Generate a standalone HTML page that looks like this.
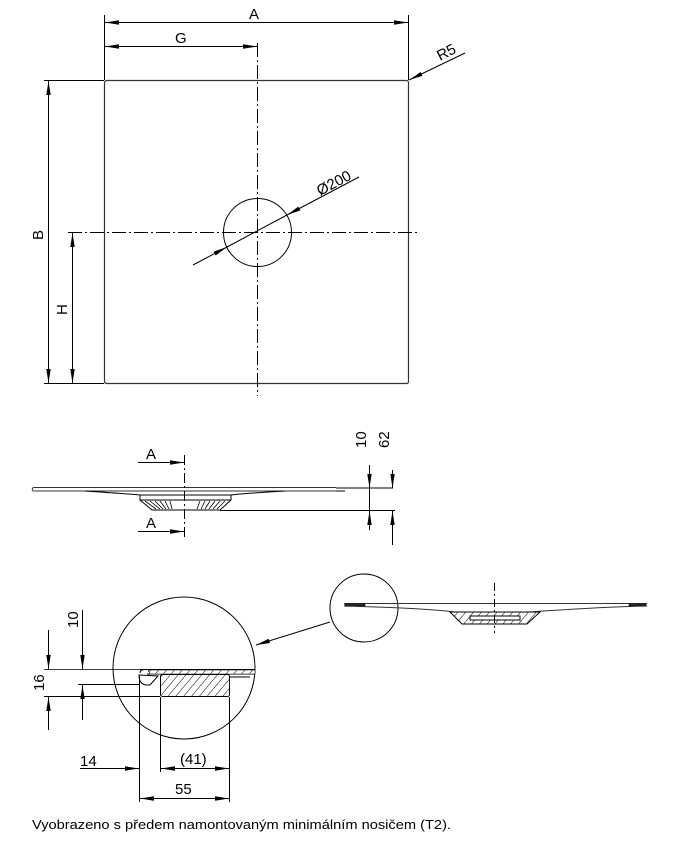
<!DOCTYPE html>
<html><head><meta charset="utf-8"><style>
html,body{margin:0;padding:0;background:#fff;}
svg{display:block;}
text{font-family:"Liberation Sans",Arial,sans-serif;fill:#000;}
</style></head><body>
<svg width="673" height="856" viewBox="0 0 673 856" xmlns="http://www.w3.org/2000/svg">
<defs>
<marker id="ar" markerWidth="14" markerHeight="6" refX="14" refY="3" orient="auto" markerUnits="userSpaceOnUse">
<path d="M0,0.8 L14,3 L0,5.2 Z" fill="#000"/></marker>
<pattern id="hat" width="6" height="6" patternUnits="userSpaceOnUse" patternTransform="rotate(40)">
<rect width="6" height="6" fill="#fff"/><line x1="0" y1="0" x2="0" y2="6" stroke="#000" stroke-width="1"/></pattern>
</defs>
<g stroke="#000" stroke-width="1" fill="none">
<rect x="104.5" y="80.5" width="304" height="303" rx="2" stroke="#333" stroke-width="1.2"/>
<line x1="104.5" y1="15" x2="104.5" y2="80"/>
<line x1="408.5" y1="15" x2="408.5" y2="80"/>
<line x1="110" y1="22.5" x2="402" y2="22.5"/>
<line x1="125" y1="22.5" x2="105" y2="22.5" marker-end="url(#ar)"/>
<line x1="388" y1="22.5" x2="408" y2="22.5" marker-end="url(#ar)"/>
<line x1="125" y1="46.5" x2="105" y2="46.5" marker-end="url(#ar)"/>
<line x1="120" y1="46.5" x2="257" y2="46.5" marker-end="url(#ar)"/>
<line x1="257.5" y1="43" x2="257.5" y2="396" stroke-dasharray="14,3,2,3"/>
<line x1="68" y1="232.5" x2="420" y2="232.5" stroke-dasharray="14,3,2,3"/>
<circle cx="257.5" cy="232.5" r="34"/>
<line x1="44" y1="80.5" x2="104" y2="80.5"/>
<line x1="44" y1="383.5" x2="104" y2="383.5"/>
<line x1="48.5" y1="100" x2="48.5" y2="81" marker-end="url(#ar)"/>
<line x1="48.5" y1="90" x2="48.5" y2="383" marker-end="url(#ar)"/>
<line x1="72.5" y1="250" x2="72.5" y2="233" marker-end="url(#ar)"/>
<line x1="72.5" y1="240" x2="72.5" y2="383" marker-end="url(#ar)"/>
<line x1="359" y1="177" x2="287" y2="215" marker-end="url(#ar)"/>
<line x1="193" y1="265" x2="227" y2="247" marker-end="url(#ar)"/>
<line x1="227" y1="247" x2="287" y2="215"/>
<line x1="465" y1="53" x2="409" y2="80" marker-end="url(#ar)"/>
<path d="M34,487.5 L336,487.5 M34,491 L336,491 M34,487.5 A1.7,1.7 0 0 0 34,491" stroke="#333"/>
<line x1="336" y1="488" x2="393" y2="488"/>
<line x1="336" y1="491" x2="345" y2="491"/>
<path d="M85,491 Q130,494 140,495 L231,495 Q250,493 285,491" />
<path d="M140,495 L140,500 L231,500 L231,495"/>
<path d="M140,500 L152,510 L220,510 L231,500"/>
<path d="M145,501 L156,509 M150,501 L160,509 M155,501 L163,509 M160,501 L166,509 M165,501 L169,509 M170,501 L172,509 M200,501 L197,509 M205,501 L201,509 M210,501 L205,509 M215,501 L209,509 M220,501 L213,509 M225,501 L217,509" stroke-width="0.8"/>
<line x1="220" y1="510.5" x2="395" y2="510.5"/>
<line x1="184.5" y1="455" x2="184.5" y2="540" stroke-dasharray="10,3,2,3"/>
<line x1="138" y1="462.5" x2="184" y2="462.5" marker-end="url(#ar)"/>
<line x1="138" y1="531.5" x2="184" y2="531.5" marker-end="url(#ar)"/>
<line x1="369.5" y1="465" x2="369.5" y2="488" marker-end="url(#ar)"/>
<line x1="369.5" y1="530" x2="369.5" y2="511" marker-end="url(#ar)"/>
<line x1="369.5" y1="488" x2="369.5" y2="530"/>
<line x1="392.5" y1="470" x2="392.5" y2="488" marker-end="url(#ar)"/>
<line x1="392.5" y1="545" x2="392.5" y2="511" marker-end="url(#ar)"/>
<circle cx="364" cy="608" r="34"/>
<line x1="330" y1="622" x2="256" y2="645" marker-end="url(#ar)"/>
<path d="M344,603.5 L647,603.5 M344,606 Q420,608 455,612 L530,612 Q600,607 647,606" stroke="#333"/>
<rect x="345" y="604" width="20" height="2" fill="#333" stroke-width="0.6"/>
<rect x="629" y="604" width="17" height="2" fill="#333" stroke-width="0.6"/>
<path d="M450,612 L462,624 L527,624 L540,612 Z" fill="url(#hat)"/>
<path d="M470,616 L520,616 L520,620 L470,620 Z" fill="#fff"/>
<line x1="494.5" y1="583" x2="494.5" y2="633" stroke-dasharray="8,3,2,3"/>
<circle cx="184" cy="668" r="71"/>
<path d="M140,669.5 L255,669.5 M147,674 L255,674 M140,673 Q140,670 144,669.5" />
<path d="M148,670 L255,670 L255,674 L150,674 Z" fill="url(#hat)" stroke-width="0.6"/>
<path d="M139,675 Q139,684 146,685 L150,685 L158,676 Z" fill="#fff"/>
<rect x="160.5" y="674.5" width="69" height="22" fill="url(#hat)" rx="2"/>
<line x1="229" y1="677" x2="250" y2="677"/>
<line x1="44" y1="669.5" x2="255" y2="669.5" stroke-width="0.8"/>
<line x1="78" y1="684.5" x2="140" y2="684.5"/>
<line x1="44" y1="696.5" x2="160" y2="696.5"/>
<line x1="48.5" y1="630" x2="48.5" y2="669" marker-end="url(#ar)"/>
<line x1="48.5" y1="730" x2="48.5" y2="697" marker-end="url(#ar)"/>
<line x1="82.5" y1="610" x2="82.5" y2="669" marker-end="url(#ar)"/>
<line x1="82.5" y1="720" x2="82.5" y2="685" marker-end="url(#ar)"/>
<line x1="139.5" y1="676" x2="139.5" y2="802"/>
<line x1="160.5" y1="697" x2="160.5" y2="772"/>
<line x1="229.5" y1="697" x2="229.5" y2="802"/>
<line x1="80" y1="768.5" x2="139" y2="768.5" marker-end="url(#ar)"/>
<line x1="180" y1="768.5" x2="161" y2="768.5" marker-end="url(#ar)"/>
<line x1="161" y1="768.5" x2="229" y2="768.5" marker-end="url(#ar)"/>
<line x1="180" y1="798.5" x2="140" y2="798.5" marker-end="url(#ar)"/>
<line x1="160" y1="798.5" x2="229" y2="798.5" marker-end="url(#ar)"/>
</g>
<g font-size="15">
<text x="249" y="19">A</text>
<text x="175" y="43">G</text>
<text x="440" y="61" transform="rotate(-27 440 61)">R5</text>
<text x="320" y="196" transform="rotate(-28 320 196)">Ø200</text>
<text x="43" y="240" transform="rotate(-90 43 240)">B</text>
<text x="67" y="315" transform="rotate(-90 67 315)">H</text>
<text x="146" y="459">A</text>
<text x="146" y="528">A</text>
<text x="366" y="448" transform="rotate(-90 366 448)">10</text>
<text x="389" y="448" transform="rotate(-90 389 448)">62</text>
<text x="78" y="628" transform="rotate(-90 78 628)">10</text>
<text x="44" y="691" transform="rotate(-90 44 691)">16</text>
<text x="80" y="766">14</text>
<text x="180" y="764">(41)</text>
<text x="175" y="794">55</text>
<text x="32" y="829" font-size="13" textLength="419" lengthAdjust="spacingAndGlyphs">Vyobrazeno s předem namontovaným minimálním nosičem (T2).</text>
</g>
</svg>
</body></html>
